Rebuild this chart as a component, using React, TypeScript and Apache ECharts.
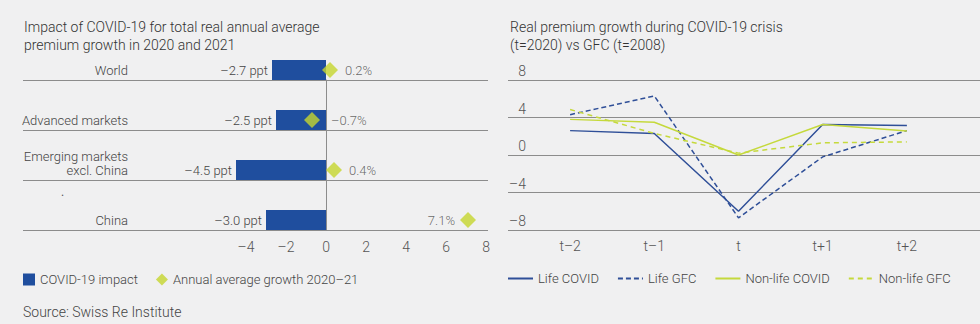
import React, { useEffect, useRef } from "react";
import * as echarts from "echarts";

const categories = ["World", "Advanced markets", "Emerging markets\nexcl. China", "China"];
const covidImpact = [-2.7, -2.5, -4.5, -3.0];
const avgGrowth = [0.2, -0.7, 0.4, 7.1];

const periods = ["t–2", "t–1", "t", "t+1", "t+2"];
const lifeCovid = [2.6, 2.3, -6.0, 3.25, 3.15];
const lifeGfc = [4.3, 6.3, -6.7, -0.2, 2.6];
const nonLifeCovid = [3.8, 3.5, 0.0, 3.25, 2.55];
const nonLifeGfc = [4.85, 2.3, 0.2, 1.3, 1.4];

const BLUE_BAR = "#1f4e9e";
const GREEN = "#c6d62e";
const LINE_BLUE = "#2f4f98";
const LINE_GREEN = "#c5d93c";
const TEXT = "#444";
const GRIDLINE = "#8c8c8c";
const FONT = "Roboto";

const fmt1 = (v: number) => (v < 0 ? "–" : "") + Math.abs(v).toFixed(1);
const fmtTick = (v: number) => (v < 0 ? "–" + Math.abs(v) : String(v));

export default function App() {
  const ref = useRef<HTMLDivElement>(null);
  useEffect(() => {
    document.body.style.margin = "0";
    const chart = echarts.init(ref.current!, null, { renderer: "svg" });
    const ts = { fontFamily: FONT, fontWeight: 300 as any, color: TEXT };
    chart.setOption({
      animation: false,
      backgroundColor: "#f0f0f1",
      textStyle: { fontFamily: FONT },
      title: [
        {
          text: "Impact of COVID-19 for total real annual average\npremium growth in 2020 and 2021",
          left: 24, top: 18, padding: 0,
          textStyle: { ...ts, fontSize: 14, lineHeight: 18, color: "#333" },
        },
        {
          text: "Real premium growth during COVID-19 crisis\n(t=2020) vs GFC (t=2008)",
          left: 510, top: 18, padding: 0,
          textStyle: { ...ts, fontSize: 14, lineHeight: 18, color: "#333" },
        },
        {
          text: "Source: Swiss Re Institute",
          left: 23, top: 303, padding: 0,
          textStyle: { ...ts, fontSize: 14, lineHeight: 18, color: "#444" },
        },
      ],
      graphic: [
        { type: "text", left: 61, top: 186, style: { text: ".", fill: "#555", font: "12px Roboto" } },
      ],
      legend: [
        {
          left: 23, top: 273, padding: 0, itemWidth: 12, itemHeight: 12, itemGap: 18,
          textStyle: { ...ts, fontSize: 13 },
          data: [
            { name: "COVID-19 impact", icon: "rect" },
            { name: "Annual average growth 2020–21", icon: "diamond" },
          ],
        },
        {
          left: 507, top: 272, padding: 0, itemWidth: 25, itemHeight: 12, itemGap: 18,
          textStyle: { ...ts, fontSize: 13 },
          itemStyle: { color: "transparent", borderWidth: 0, opacity: 0 },
          data: ["Life COVID", "Life GFC", "Non-life COVID", "Non-life GFC"],
        },
      ],
      grid: [
        { left: 26, top: 45, width: 460, height: 200 },
        { left: 23, top: 80, width: 465, height: 150 },
        { left: 508, top: 80, width: 472, height: 150 },
        { left: 528, top: 80, width: 421, height: 150 },
      ],
      xAxis: [
        {
          gridIndex: 0, type: "value", min: -15, max: 8, interval: 1,
          splitLine: { show: false }, axisLine: { show: false }, axisTick: { show: false },
          axisLabel: {
            ...ts, fontSize: 14, color: "#555", margin: -5,
            formatter: (v: number) => (v >= -4 && v % 2 === 0 ? fmtTick(v) : ""),
          },
        },
        {
          gridIndex: 1, type: "value", min: -15.15, max: 8.1,
          splitLine: { show: false }, axisLine: { show: false }, axisTick: { show: false },
          axisLabel: { show: false },
        },
        {
          gridIndex: 2, type: "value", min: 0, max: 1, show: false,
        },
        {
          gridIndex: 3, type: "category", data: periods, boundaryGap: true,
          axisLine: { show: false }, axisTick: { show: false }, splitLine: { show: false },
          axisLabel: { ...ts, fontSize: 14, color: "#555", margin: 9 },
        },
      ],
      yAxis: [
        {
          gridIndex: 0, type: "category", data: categories, inverse: true,
          axisLine: { show: false }, axisTick: { show: false }, splitLine: { show: false },
          axisLabel: {
            ...ts, fontSize: 13, lineHeight: 14, align: "right", margin: -102,
            formatter: (v: string) => (v.indexOf("\n") >= 0 ? v + "\n " : v),
          },
        },
        {
          gridIndex: 1, type: "category", data: ["a", "b", "c"], boundaryGap: true,
          axisLine: { show: true, onZero: true, lineStyle: { color: GRIDLINE, width: 1 } },
          axisTick: { show: false }, axisLabel: { show: false },
          splitLine: { show: true, lineStyle: { color: GRIDLINE, width: 1 } },
        },
        {
          gridIndex: 2, type: "value", min: -8, max: 8, interval: 4,
          axisLine: { show: false }, axisTick: { show: false },
          splitLine: { show: true, lineStyle: { color: GRIDLINE, width: 1 } },
          axisLabel: {
            ...ts, fontSize: 14, color: "#555", inside: true, align: "right", margin: 18,
            verticalAlign: "bottom", padding: [0, 0, 2, 0], formatter: fmtTick,
          },
        },
        {
          gridIndex: 3, type: "value", min: -8, max: 8, show: false,
        },
      ],
      series: [
        {
          name: "COVID-19 impact", type: "bar", xAxisIndex: 0, yAxisIndex: 0,
          data: covidImpact, barWidth: 20, itemStyle: { color: BLUE_BAR },
          label: {
            show: true, position: "left", distance: 4, ...ts, fontSize: 13,
            formatter: (p: any) => fmt1(p.value) + " ppt",
          },
        },
        {
          name: "Annual average growth 2020–21", type: "scatter", xAxisIndex: 0, yAxisIndex: 0,
          symbol: "diamond", symbolSize: 16, itemStyle: { color: GREEN },
          data: avgGrowth.map((v) => ({
            value: v,
            label: { position: v > 5 ? "left" : "right", distance: v < 0 ? 11 : v > 5 ? 5 : 7 },
          })),
          label: {
            show: true, ...ts, fontSize: 13,
            formatter: (p: any) => fmt1(p.value) + "%",
          },
          z: 3,
        },
        {
          name: "Life COVID", type: "line", xAxisIndex: 3, yAxisIndex: 3, data: lifeCovid,
          symbol: "none", itemStyle: { color: LINE_BLUE }, lineStyle: { color: LINE_BLUE, width: 1.5 },
        },
        {
          name: "Life GFC", type: "line", xAxisIndex: 3, yAxisIndex: 3, data: lifeGfc,
          symbol: "none", itemStyle: { color: LINE_BLUE },
          lineStyle: { color: LINE_BLUE, width: 1.5, type: [5, 3] },
        },
        {
          name: "Non-life COVID", type: "line", xAxisIndex: 3, yAxisIndex: 3, data: nonLifeCovid,
          symbol: "none", itemStyle: { color: LINE_GREEN }, lineStyle: { color: LINE_GREEN, width: 1.5 },
        },
        {
          name: "Non-life GFC", type: "line", xAxisIndex: 3, yAxisIndex: 3, data: nonLifeGfc,
          symbol: "none", itemStyle: { color: LINE_GREEN },
          lineStyle: { color: LINE_GREEN, width: 1.5, type: [5, 4] },
        },
      ],
    });
    return () => chart.dispose();
  }, []);
  return <div ref={ref} style={{ width: 980, height: 324 }} />;
}
